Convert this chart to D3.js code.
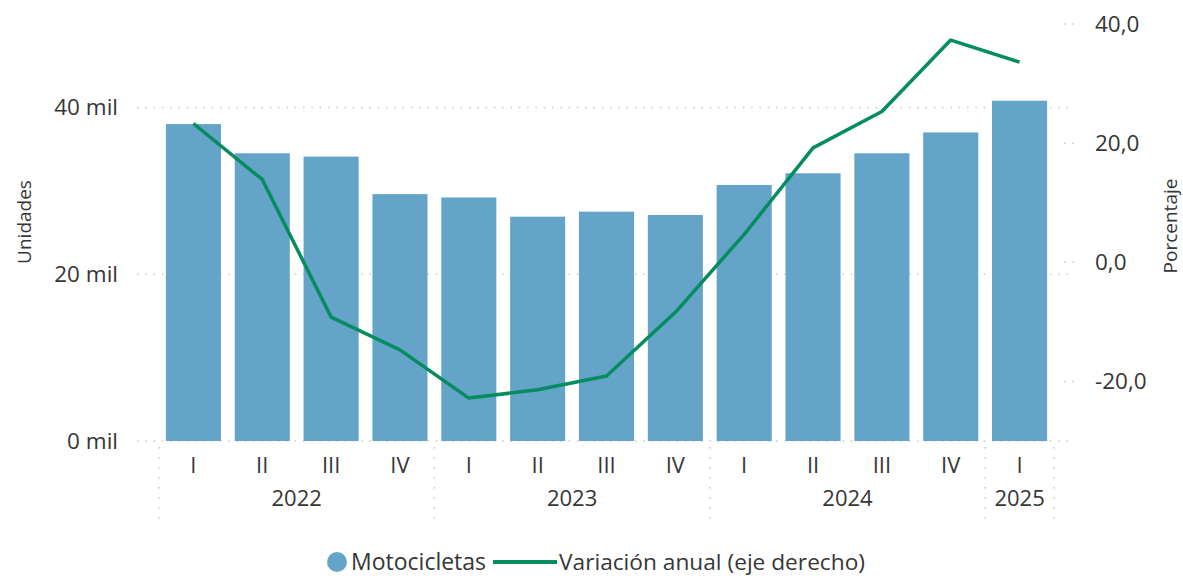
<!DOCTYPE html>
<html>
<head>
<meta charset="utf-8">
<script src="https://cdn.jsdelivr.net/npm/d3@7"></script>
<style>
  body { margin: 0; background: #fff; }
  text { font-family: "Open Sans", "Noto Sans", sans-serif; fill: #363636; }
</style>
</head>
<body>
<script>
// quarters and years
const quarters = ["I","II","III","IV","I","II","III","IV","I","II","III","IV","I"];
const years = ["2022","2022","2022","2022","2023","2023","2023","2023","2024","2024","2024","2024","2025"];
// units sold (bars, left axis)
const motos = [38000, 34500, 34100, 29600, 29200, 26900, 27500, 27100, 30700, 32100, 34500, 37000, 40800];
// annual variation % (line, right axis)
const variacion = [23.3, 13.9, -9.2, -14.7, -22.8, -21.4, -19.1, -8.4, 4.7, 19.2, 25.3, 37.3, 33.6];
const leftTicks = [0, 20000, 40000];
const rightTicks = [-20, 0, 20, 40];

const width = 1183, height = 576;
const barColor = "#64a4c9", lineColor = "#058c5f", gridColor = "#c6c6c6";

const svg = d3.select("body").append("svg")
  .attr("width", width)
  .attr("height", height);

const ids = quarters.map((q, i) => years[i] + "-" + q);
const x = d3.scaleBand().domain(ids).range([159, 1054]).paddingInner(0.2).paddingOuter(0.1);
const yL = d3.scaleLinear().domain([0, 50000]).range([441, 24]);
const yR = d3.scaleLinear().domain([-30, 40]).range([441, 24]);

const fmtL = d => d3.format(",")(d / 1000) + " mil";
const fmtR = d => d3.format(".1f")(d).replace(".", ",").replace("\u2212", "-");

// left gridlines
svg.append("g").selectAll("line")
  .data(leftTicks).enter()
  .append("line")
  .attr("x1", 137).attr("x2", 1072)
  .attr("y1", d => yL(d)).attr("y2", d => yL(d))
  .attr("stroke", gridColor)
  .attr("stroke-width", 1.5)
  .attr("stroke-dasharray", "1.5,6.8");

svg.append("g").selectAll("text")
  .data(leftTicks).enter()
  .append("text")
  .attr("x", 118).attr("y", d => yL(d))
  .attr("dy", "0.35em")
  .attr("text-anchor", "end")
  .style("font-size", "22.5px")
  .text(fmtL);

// right ticks (short dotted)
svg.append("g").selectAll("line")
  .data(rightTicks).enter()
  .append("line")
  .attr("x1", 1064).attr("x2", 1078)
  .attr("y1", d => yR(d)).attr("y2", d => yR(d))
  .attr("stroke", gridColor)
  .attr("stroke-width", 1.5)
  .attr("stroke-dasharray", "1.5,6.8");

svg.append("g").selectAll("text")
  .data(rightTicks).enter()
  .append("text")
  .attr("x", 1095).attr("y", d => yR(d))
  .attr("dy", "0.35em")
  .style("font-size", "22.5px")
  .text(fmtR);

// axis titles
svg.append("text")
  .attr("transform", "translate(31,222) rotate(-90)")
  .attr("text-anchor", "middle")
  .style("font-size", "19px")
  .text("Unidades");

svg.append("text")
  .attr("transform", "translate(1177,226) rotate(-90)")
  .attr("text-anchor", "middle")
  .style("font-size", "19px")
  .text("Porcentaje");

// bars
svg.append("g").selectAll("rect")
  .data(motos).enter()
  .append("rect")
  .attr("x", (d, i) => x(ids[i]))
  .attr("y", d => yL(d))
  .attr("width", x.bandwidth())
  .attr("height", d => yL(0) - yL(d))
  .attr("fill", barColor);

// quarter labels
svg.append("g").selectAll("text")
  .data(quarters).enter()
  .append("text")
  .attr("x", (d, i) => x(ids[i]) + x.bandwidth() / 2)
  .attr("y", 465)
  .attr("dy", "0.35em")
  .attr("text-anchor", "middle")
  .style("font-size", "22px")
  .text(d => d);

// year groups
const yearList = Array.from(new Set(years));
const step = x.step();
const groups = yearList.map(y => {
  const idx = years.map((v, i) => v === y ? i : -1).filter(i => i >= 0);
  return {
    year: y,
    x0: x(ids[idx[0]]) - step * 0.1,
    x1: x(ids[idx[idx.length - 1]]) + x.bandwidth() + step * 0.1
  };
});

const seps = [groups[0].x0].concat(groups.map(g => g.x1));
svg.append("g").selectAll("line")
  .data(seps).enter()
  .append("line")
  .attr("x1", d => d).attr("x2", d => d)
  .attr("y1", 447).attr("y2", 520)
  .attr("stroke", gridColor)
  .attr("stroke-width", 1.5)
  .attr("stroke-dasharray", "1.5,8.5");

svg.append("g").selectAll("text")
  .data(groups).enter()
  .append("text")
  .attr("x", d => (d.x0 + d.x1) / 2)
  .attr("y", 498)
  .attr("dy", "0.35em")
  .attr("text-anchor", "middle")
  .style("font-size", "22px")
  .text(d => d.year);

// line
const line = d3.line()
  .x((d, i) => x(ids[i]) + x.bandwidth() / 2)
  .y(d => yR(d));

svg.append("path")
  .datum(variacion)
  .attr("d", line)
  .attr("fill", "none")
  .attr("stroke", lineColor)
  .attr("stroke-width", 3.5)
  .attr("stroke-linejoin", "round");

// legend
const lg = svg.append("g");
lg.append("circle").attr("cx", 337).attr("cy", 562).attr("r", 10).attr("fill", barColor);
lg.append("text").attr("x", 351).attr("y", 562).attr("dy", "0.35em")
  .style("font-size", "23px").text("Motocicletas");
lg.append("line").attr("x1", 493).attr("x2", 557).attr("y1", 562).attr("y2", 562)
  .attr("stroke", lineColor).attr("stroke-width", 4);
lg.append("text").attr("x", 559).attr("y", 562).attr("dy", "0.35em")
  .style("font-size", "22.7px").text("Variación anual (eje derecho)");
</script>
</body>
</html>
